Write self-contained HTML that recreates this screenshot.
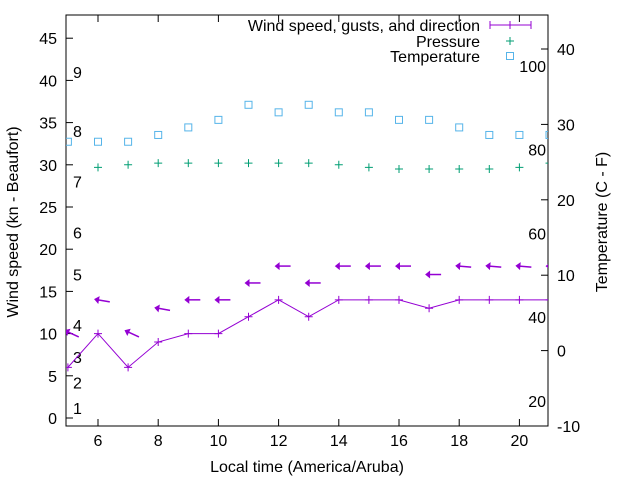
<!DOCTYPE html>
<html><head><meta charset="utf-8"><style>
body{margin:0;background:#fff}
svg{display:block;font-family:"Liberation Sans",sans-serif}
</style></head><body>
<svg id="c" width="640" height="480"></svg>
<script>
const hours=[5,6,7,8,9,10,11,12,13,14,15,16,17,18,19,20,21];
const windSpeed=[6,10,6,9,10,10,12,14,12,14,14,14,13,14,14,14,14];
const gusts=[10.2,14,10.2,13,14,14,16,18,16,18,18,18,17,18,18,18,18];
const windDir=[205,190,205,190,180,180,180,180,180,180,180,180,180,185,185,185,180];
const pressure=[null,29.7,30,30.2,30.2,30.2,30.2,30.2,30.2,30,29.7,29.5,29.5,29.5,29.5,29.7,30.2];
const temperature=[27.7,27.7,27.7,28.6,29.6,30.6,32.6,31.6,32.6,31.6,31.6,30.6,30.6,29.6,28.6,28.6,28.6];
const xTicks=[6,8,10,12,14,16,18,20];
const yTicks=[0,5,10,15,20,25,30,35,40,45];
const y2Ticks=[-10,0,10,20,30,40];
const beaufort=[[1,1.2],[2,4.2],[3,7.2],[4,11],[5,17],[6,22],[7,28],[8,34],[9,41]];
const fahr=[20,40,60,80,100];

const L=66,R=548,T=15,B=426;
const X=h=>98+(h-6)*30.1;
const Y=v=>418-v*8.44;
const Y2=c=>350.6-c*7.54;
const FS=16;
const svg=document.getElementById('c');
const NS='http://www.w3.org/2000/svg';
function mk(tag,attrs,parent){const e=document.createElementNS(NS,tag);for(const k in attrs)e.setAttribute(k,attrs[k]);(parent||svg).appendChild(e);return e;}
function txt(s,x,y,anchor,extra){const e=mk('text',Object.assign({x:x,y:y,'font-size':FS,'text-anchor':anchor||'start',fill:'#000'},extra||{}));e.textContent=s;return e;}

const frame=mk('rect',{x:L,y:T,width:R-L,height:B-T,fill:'none',stroke:'#000','stroke-width':1});



xTicks.forEach(h=>{
  const x=X(h);
  mk('line',{x1:x,y1:B,x2:x,y2:B-7,stroke:'#000'});
  mk('line',{x1:x,y1:T,x2:x,y2:T+7,stroke:'#000'});
  const t=txt(String(h),x,B+20,'middle');
  
  
});
yTicks.forEach(v=>{
  const y=Y(v);
  mk('line',{x1:L,y1:y,x2:L+7,y2:y,stroke:'#000'});
  const t=txt(String(v),L-9,y+6,'end');
  
  
});
y2Ticks.forEach(v=>{
  const y=Y2(v);
  mk('line',{x1:R,y1:y,x2:R-7,y2:y,stroke:'#000'});
  const t=txt(String(v),R+9,y+6,'start');
  
  
});
beaufort.forEach(b=>{
  const t=txt(String(b[0]),73,Y(b[1])+6,'start');
  
  
});
fahr.forEach(f=>{
  const t=txt(String(f),546,Y2((f-32)*5/9)+6,'end');
  
  
});

const xt=txt('Local time (America/Aruba)',307,472,'middle');


const yt=txt('Wind speed (kn - Beaufort)',0,0,'middle',{transform:'translate(18,222) rotate(-90)'});


const y2t=txt('Temperature (C - F)',0,0,'middle',{transform:'translate(607,222) rotate(-90)'});



const clip=mk('clipPath',{id:'pc'});mk('rect',{x:L,y:T,width:R-L,height:B-T},clip);
const g=mk('g',{'clip-path':'url(#pc)'});
const PURPLE='#9400d3',GREEN='#009e73',BLUE='#56b4e9';

const wl=mk('polyline',{points:hours.map((h,i)=>X(h)+','+Y(windSpeed[i])).join(' '),fill:'none',stroke:PURPLE,'stroke-width':1},g);


hours.forEach((h,i)=>{
  const x=X(h),y=Y(windSpeed[i]);
  const p=mk('path',{d:`M${x-4},${y}H${x+4}M${x},${y-4}V${y+4}`,stroke:PURPLE},g);
  
  
});
hours.forEach((h,i)=>{
  const x=X(h),y=Y(gusts[i]);
  const a=mk('g',{transform:`translate(${x},${y}) rotate(${windDir[i]-180})`},g);
  
  
  mk('line',{x1:0,y1:0,x2:12,y2:0,stroke:PURPLE,'stroke-width':1.5},a);
  mk('path',{d:'M-4,0L1,-4L1,4Z',fill:PURPLE},a);
});
hours.forEach((h,i)=>{
  if(pressure[i]==null)return;
  const x=X(h),y=Y(pressure[i]);
  const p=mk('path',{d:`M${x-4},${y}H${x+4}M${x},${y-4}V${y+4}`,stroke:GREEN},g);
  
  
});
hours.forEach((h,i)=>{
  const x=X(h),y=Y2(temperature[i]);
  const r=mk('rect',{x:x-3.5,y:y-3.5,width:7,height:7,fill:'none',stroke:BLUE},g);
  
  
});

const lg=mk('g',{});


const l1=txt('Wind speed, gusts, and direction',480,31,'end');lg.appendChild(l1);
mk('path',{d:'M490,25H531M490,21V29M531,21V29M510,21V29',stroke:PURPLE},lg);
const l2=txt('Pressure',480,47,'end');lg.appendChild(l2);
mk('path',{d:'M506,41H514M510,37V45',stroke:GREEN},lg);
const l3=txt('Temperature',480,62,'end');lg.appendChild(l3);
mk('rect',{x:506.5,y:52.5,width:7,height:7,fill:'none',stroke:BLUE},lg);
</script>
</body></html>
